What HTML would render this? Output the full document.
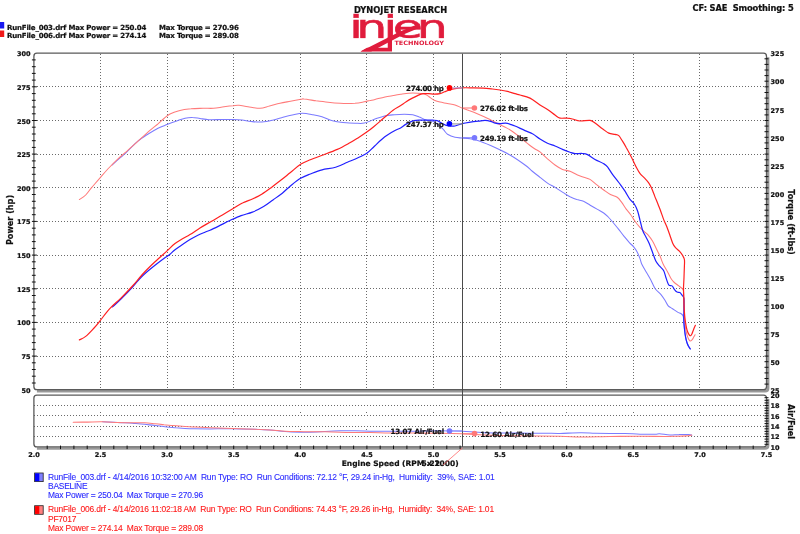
<!DOCTYPE html><html><head><meta charset="utf-8"><title>Dyno chart</title><style>html,body{margin:0;padding:0;background:#fff;width:800px;height:534px;overflow:hidden}svg{display:block;will-change:transform}</style></head><body>
<svg width="800" height="534" viewBox="0 0 800 534">
<rect width="800" height="534" fill="#fff"/>
<text x="400.6" y="12.8" font-family="DejaVu Sans, Verdana, sans-serif" font-weight="bold" stroke="#111" stroke-width="0.22" font-size="8.3" text-anchor="middle" fill="#111">DYNOJET RESEARCH</text>
<text x="692.6" y="10.7" font-family="DejaVu Sans, Verdana, sans-serif" font-weight="bold" stroke="#111" stroke-width="0.22" font-size="8.3" fill="#111" textLength="101.2" xml:space="preserve">CF: SAE  Smoothing: 5</text>
<rect x="0" y="22" width="4.2" height="6.5" fill="#1818f0"/>
<rect x="0" y="30.5" width="4.2" height="6.5" fill="#f01818"/>
<g font-family="DejaVu Sans, Verdana, sans-serif" font-weight="bold" stroke="#111" stroke-width="0.22" font-size="7" fill="#111"><text x="7" y="29.7" textLength="139.3">RunFile_003.drf Max Power = 250.04</text><text x="159" y="29.7" textLength="79.9">Max Torque = 270.96</text><text x="7" y="37.7" textLength="139.3">RunFile_006.drf Max Power = 274.14</text><text x="159" y="37.7" textLength="79.9">Max Torque = 289.08</text></g>
<defs><clipPath id="lc"><rect x="340" y="10" width="120" height="28.4"/></clipPath></defs>
<g clip-path="url(#lc)"><text transform="translate(0,38.3) scale(1.52,1)" x="229.73 234.40 252.23 258.46 274.21" y="0" font-family="DejaVu Sans, sans-serif" font-size="32.2" fill="#e01c3c" stroke="#e01c3c" stroke-width="0.55">injen</text></g>
<polygon points="360.5,51.5 367,47.75 387.75,47.75 387.75,37.5 392,37.5 392,51.5" fill="#e01c3c"/>
<polygon points="360.5,51.5 400,31.4 419.5,23.4 419.5,27.8 404,34.3 371.2,51.5" fill="#e01c3c"/>
<text x="394.4" y="45" font-family="DejaVu Sans, sans-serif" font-weight="bold" font-size="6" fill="#e01c3c" textLength="49.6" lengthAdjust="spacingAndGlyphs">TECHNOLOGY</text>
<g stroke="#6a6a6a" stroke-width="1" stroke-dasharray="1 2" fill="none" shape-rendering="crispEdges"><line x1="34" y1="356.5" x2="766" y2="356.5"/><line x1="34" y1="322.5" x2="766" y2="322.5"/><line x1="34" y1="288.5" x2="766" y2="288.5"/><line x1="34" y1="255.5" x2="766" y2="255.5"/><line x1="34" y1="221.5" x2="766" y2="221.5"/><line x1="34" y1="187.5" x2="766" y2="187.5"/><line x1="34" y1="154.5" x2="766" y2="154.5"/><line x1="34" y1="120.5" x2="766" y2="120.5"/><line x1="34" y1="86.5" x2="766" y2="86.5"/><line x1="100.5" y1="54" x2="100.5" y2="389"/><line x1="167.5" y1="54" x2="167.5" y2="389"/><line x1="233.5" y1="54" x2="233.5" y2="389"/><line x1="300.5" y1="54" x2="300.5" y2="389"/><line x1="366.5" y1="54" x2="366.5" y2="389"/><line x1="433.5" y1="54" x2="433.5" y2="389"/><line x1="500.5" y1="54" x2="500.5" y2="389"/><line x1="566.5" y1="54" x2="566.5" y2="389"/><line x1="633.5" y1="54" x2="633.5" y2="389"/><line x1="699.5" y1="54" x2="699.5" y2="389"/><line x1="34" y1="436.5" x2="766" y2="436.5"/><line x1="34" y1="426.5" x2="766" y2="426.5"/><line x1="34" y1="415.5" x2="766" y2="415.5"/><line x1="34" y1="405.5" x2="766" y2="405.5"/></g>
<g fill="#6a6a6a"><rect x="100" y="412" width="1" height="1"/><rect x="100" y="429" width="1" height="1"/><rect x="167" y="412" width="1" height="1"/><rect x="167" y="429" width="1" height="1"/><rect x="233" y="412" width="1" height="1"/><rect x="233" y="429" width="1" height="1"/><rect x="300" y="412" width="1" height="1"/><rect x="300" y="429" width="1" height="1"/><rect x="366" y="412" width="1" height="1"/><rect x="366" y="429" width="1" height="1"/><rect x="433" y="412" width="1" height="1"/><rect x="433" y="429" width="1" height="1"/><rect x="500" y="412" width="1" height="1"/><rect x="500" y="429" width="1" height="1"/><rect x="566" y="412" width="1" height="1"/><rect x="566" y="429" width="1" height="1"/><rect x="633" y="412" width="1" height="1"/><rect x="633" y="429" width="1" height="1"/><rect x="699" y="412" width="1" height="1"/><rect x="699" y="429" width="1" height="1"/></g>
<g stroke="#999" stroke-width="2.6"><path d="M768.1,57.2 L768.1,388.3 Q768.1,391.3 765.1,391.3 L36.9,391.3" fill="none"/><path d="M768.1,399.1 L768.1,445.5 Q768.1,448.5 765.1,448.5 L36.9,448.5" fill="none"/></g>
<g stroke="#5a5a5a" stroke-width="1.3"><rect x="33.9" y="53.2" width="732.6" height="336.5" rx="3" ry="3" fill="none"/><rect x="33.9" y="395.1" width="732.6" height="51.799999999999955" rx="3" ry="3" fill="none"/></g>
<g stroke="#111" stroke-width="1"><line x1="31.9" y1="383.0" x2="35.699999999999996" y2="383.0"/><line x1="31.9" y1="376.2" x2="35.699999999999996" y2="376.2"/><line x1="31.9" y1="369.5" x2="35.699999999999996" y2="369.5"/><line x1="31.9" y1="362.8" x2="35.699999999999996" y2="362.8"/><line x1="31.9" y1="356.1" x2="36.9" y2="356.1"/><line x1="31.9" y1="349.3" x2="35.699999999999996" y2="349.3"/><line x1="31.9" y1="342.6" x2="35.699999999999996" y2="342.6"/><line x1="31.9" y1="335.9" x2="35.699999999999996" y2="335.9"/><line x1="31.9" y1="329.1" x2="35.699999999999996" y2="329.1"/><line x1="31.9" y1="322.4" x2="36.9" y2="322.4"/><line x1="31.9" y1="315.7" x2="35.699999999999996" y2="315.7"/><line x1="31.9" y1="308.9" x2="35.699999999999996" y2="308.9"/><line x1="31.9" y1="302.2" x2="35.699999999999996" y2="302.2"/><line x1="31.9" y1="295.5" x2="35.699999999999996" y2="295.5"/><line x1="31.9" y1="288.8" x2="36.9" y2="288.8"/><line x1="31.9" y1="282.0" x2="35.699999999999996" y2="282.0"/><line x1="31.9" y1="275.3" x2="35.699999999999996" y2="275.3"/><line x1="31.9" y1="268.6" x2="35.699999999999996" y2="268.6"/><line x1="31.9" y1="261.8" x2="35.699999999999996" y2="261.8"/><line x1="31.9" y1="255.1" x2="36.9" y2="255.1"/><line x1="31.9" y1="248.4" x2="35.699999999999996" y2="248.4"/><line x1="31.9" y1="241.6" x2="35.699999999999996" y2="241.6"/><line x1="31.9" y1="234.9" x2="35.699999999999996" y2="234.9"/><line x1="31.9" y1="228.2" x2="35.699999999999996" y2="228.2"/><line x1="31.9" y1="221.4" x2="36.9" y2="221.4"/><line x1="31.9" y1="214.7" x2="35.699999999999996" y2="214.7"/><line x1="31.9" y1="208.0" x2="35.699999999999996" y2="208.0"/><line x1="31.9" y1="201.3" x2="35.699999999999996" y2="201.3"/><line x1="31.9" y1="194.5" x2="35.699999999999996" y2="194.5"/><line x1="31.9" y1="187.8" x2="36.9" y2="187.8"/><line x1="31.9" y1="181.1" x2="35.699999999999996" y2="181.1"/><line x1="31.9" y1="174.3" x2="35.699999999999996" y2="174.3"/><line x1="31.9" y1="167.6" x2="35.699999999999996" y2="167.6"/><line x1="31.9" y1="160.9" x2="35.699999999999996" y2="160.9"/><line x1="31.9" y1="154.1" x2="36.9" y2="154.1"/><line x1="31.9" y1="147.4" x2="35.699999999999996" y2="147.4"/><line x1="31.9" y1="140.7" x2="35.699999999999996" y2="140.7"/><line x1="31.9" y1="134.0" x2="35.699999999999996" y2="134.0"/><line x1="31.9" y1="127.2" x2="35.699999999999996" y2="127.2"/><line x1="31.9" y1="120.5" x2="36.9" y2="120.5"/><line x1="31.9" y1="113.8" x2="35.699999999999996" y2="113.8"/><line x1="31.9" y1="107.0" x2="35.699999999999996" y2="107.0"/><line x1="31.9" y1="100.3" x2="35.699999999999996" y2="100.3"/><line x1="31.9" y1="93.6" x2="35.699999999999996" y2="93.6"/><line x1="31.9" y1="86.8" x2="36.9" y2="86.8"/><line x1="31.9" y1="80.1" x2="35.699999999999996" y2="80.1"/><line x1="31.9" y1="73.4" x2="35.699999999999996" y2="73.4"/><line x1="31.9" y1="66.7" x2="35.699999999999996" y2="66.7"/><line x1="31.9" y1="59.9" x2="35.699999999999996" y2="59.9"/><line x1="764.5" y1="384.1" x2="768.5" y2="384.1"/><line x1="764.5" y1="378.5" x2="768.5" y2="378.5"/><line x1="764.5" y1="372.9" x2="768.5" y2="372.9"/><line x1="764.5" y1="367.3" x2="768.5" y2="367.3"/><line x1="764.5" y1="361.7" x2="768.5" y2="361.7"/><line x1="764.5" y1="356.1" x2="768.5" y2="356.1"/><line x1="764.5" y1="350.4" x2="768.5" y2="350.4"/><line x1="764.5" y1="344.8" x2="768.5" y2="344.8"/><line x1="764.5" y1="339.2" x2="768.5" y2="339.2"/><line x1="764.5" y1="333.6" x2="768.5" y2="333.6"/><line x1="764.5" y1="328.0" x2="768.5" y2="328.0"/><line x1="764.5" y1="322.4" x2="768.5" y2="322.4"/><line x1="764.5" y1="316.8" x2="768.5" y2="316.8"/><line x1="764.5" y1="311.2" x2="768.5" y2="311.2"/><line x1="764.5" y1="305.6" x2="768.5" y2="305.6"/><line x1="764.5" y1="300.0" x2="768.5" y2="300.0"/><line x1="764.5" y1="294.4" x2="768.5" y2="294.4"/><line x1="764.5" y1="288.8" x2="768.5" y2="288.8"/><line x1="764.5" y1="283.1" x2="768.5" y2="283.1"/><line x1="764.5" y1="277.5" x2="768.5" y2="277.5"/><line x1="764.5" y1="271.9" x2="768.5" y2="271.9"/><line x1="764.5" y1="266.3" x2="768.5" y2="266.3"/><line x1="764.5" y1="260.7" x2="768.5" y2="260.7"/><line x1="764.5" y1="255.1" x2="768.5" y2="255.1"/><line x1="764.5" y1="249.5" x2="768.5" y2="249.5"/><line x1="764.5" y1="243.9" x2="768.5" y2="243.9"/><line x1="764.5" y1="238.3" x2="768.5" y2="238.3"/><line x1="764.5" y1="232.7" x2="768.5" y2="232.7"/><line x1="764.5" y1="227.1" x2="768.5" y2="227.1"/><line x1="764.5" y1="221.4" x2="768.5" y2="221.4"/><line x1="764.5" y1="215.8" x2="768.5" y2="215.8"/><line x1="764.5" y1="210.2" x2="768.5" y2="210.2"/><line x1="764.5" y1="204.6" x2="768.5" y2="204.6"/><line x1="764.5" y1="199.0" x2="768.5" y2="199.0"/><line x1="764.5" y1="193.4" x2="768.5" y2="193.4"/><line x1="764.5" y1="187.8" x2="768.5" y2="187.8"/><line x1="764.5" y1="182.2" x2="768.5" y2="182.2"/><line x1="764.5" y1="176.6" x2="768.5" y2="176.6"/><line x1="764.5" y1="171.0" x2="768.5" y2="171.0"/><line x1="764.5" y1="165.4" x2="768.5" y2="165.4"/><line x1="764.5" y1="159.8" x2="768.5" y2="159.8"/><line x1="764.5" y1="154.1" x2="768.5" y2="154.1"/><line x1="764.5" y1="148.5" x2="768.5" y2="148.5"/><line x1="764.5" y1="142.9" x2="768.5" y2="142.9"/><line x1="764.5" y1="137.3" x2="768.5" y2="137.3"/><line x1="764.5" y1="131.7" x2="768.5" y2="131.7"/><line x1="764.5" y1="126.1" x2="768.5" y2="126.1"/><line x1="764.5" y1="120.5" x2="768.5" y2="120.5"/><line x1="764.5" y1="114.9" x2="768.5" y2="114.9"/><line x1="764.5" y1="109.3" x2="768.5" y2="109.3"/><line x1="764.5" y1="103.7" x2="768.5" y2="103.7"/><line x1="764.5" y1="98.1" x2="768.5" y2="98.1"/><line x1="764.5" y1="92.5" x2="768.5" y2="92.5"/><line x1="764.5" y1="86.8" x2="768.5" y2="86.8"/><line x1="764.5" y1="81.2" x2="768.5" y2="81.2"/><line x1="764.5" y1="75.6" x2="768.5" y2="75.6"/><line x1="764.5" y1="70.0" x2="768.5" y2="70.0"/><line x1="764.5" y1="64.4" x2="768.5" y2="64.4"/><line x1="764.5" y1="58.8" x2="768.5" y2="58.8"/><line x1="47.2" y1="445.59999999999997" x2="47.2" y2="449.09999999999997"/><line x1="60.5" y1="445.59999999999997" x2="60.5" y2="449.09999999999997"/><line x1="73.9" y1="445.59999999999997" x2="73.9" y2="449.09999999999997"/><line x1="87.2" y1="445.59999999999997" x2="87.2" y2="449.09999999999997"/><line x1="100.5" y1="445.59999999999997" x2="100.5" y2="449.09999999999997"/><line x1="113.8" y1="445.59999999999997" x2="113.8" y2="449.09999999999997"/><line x1="127.1" y1="445.59999999999997" x2="127.1" y2="449.09999999999997"/><line x1="140.5" y1="445.59999999999997" x2="140.5" y2="449.09999999999997"/><line x1="153.8" y1="445.59999999999997" x2="153.8" y2="449.09999999999997"/><line x1="167.1" y1="445.59999999999997" x2="167.1" y2="449.09999999999997"/><line x1="180.4" y1="445.59999999999997" x2="180.4" y2="449.09999999999997"/><line x1="193.7" y1="445.59999999999997" x2="193.7" y2="449.09999999999997"/><line x1="207.1" y1="445.59999999999997" x2="207.1" y2="449.09999999999997"/><line x1="220.4" y1="445.59999999999997" x2="220.4" y2="449.09999999999997"/><line x1="233.7" y1="445.59999999999997" x2="233.7" y2="449.09999999999997"/><line x1="247.0" y1="445.59999999999997" x2="247.0" y2="449.09999999999997"/><line x1="260.3" y1="445.59999999999997" x2="260.3" y2="449.09999999999997"/><line x1="273.7" y1="445.59999999999997" x2="273.7" y2="449.09999999999997"/><line x1="287.0" y1="445.59999999999997" x2="287.0" y2="449.09999999999997"/><line x1="300.3" y1="445.59999999999997" x2="300.3" y2="449.09999999999997"/><line x1="313.6" y1="445.59999999999997" x2="313.6" y2="449.09999999999997"/><line x1="326.9" y1="445.59999999999997" x2="326.9" y2="449.09999999999997"/><line x1="340.3" y1="445.59999999999997" x2="340.3" y2="449.09999999999997"/><line x1="353.6" y1="445.59999999999997" x2="353.6" y2="449.09999999999997"/><line x1="366.9" y1="445.59999999999997" x2="366.9" y2="449.09999999999997"/><line x1="380.2" y1="445.59999999999997" x2="380.2" y2="449.09999999999997"/><line x1="393.5" y1="445.59999999999997" x2="393.5" y2="449.09999999999997"/><line x1="406.9" y1="445.59999999999997" x2="406.9" y2="449.09999999999997"/><line x1="420.2" y1="445.59999999999997" x2="420.2" y2="449.09999999999997"/><line x1="433.5" y1="445.59999999999997" x2="433.5" y2="449.09999999999997"/><line x1="446.8" y1="445.59999999999997" x2="446.8" y2="449.09999999999997"/><line x1="460.1" y1="445.59999999999997" x2="460.1" y2="449.09999999999997"/><line x1="473.5" y1="445.59999999999997" x2="473.5" y2="449.09999999999997"/><line x1="486.8" y1="445.59999999999997" x2="486.8" y2="449.09999999999997"/><line x1="500.1" y1="445.59999999999997" x2="500.1" y2="449.09999999999997"/><line x1="513.4" y1="445.59999999999997" x2="513.4" y2="449.09999999999997"/><line x1="526.7" y1="445.59999999999997" x2="526.7" y2="449.09999999999997"/><line x1="540.1" y1="445.59999999999997" x2="540.1" y2="449.09999999999997"/><line x1="553.4" y1="445.59999999999997" x2="553.4" y2="449.09999999999997"/><line x1="566.7" y1="445.59999999999997" x2="566.7" y2="449.09999999999997"/><line x1="580.0" y1="445.59999999999997" x2="580.0" y2="449.09999999999997"/><line x1="593.3" y1="445.59999999999997" x2="593.3" y2="449.09999999999997"/><line x1="606.7" y1="445.59999999999997" x2="606.7" y2="449.09999999999997"/><line x1="620.0" y1="445.59999999999997" x2="620.0" y2="449.09999999999997"/><line x1="633.3" y1="445.59999999999997" x2="633.3" y2="449.09999999999997"/><line x1="646.6" y1="445.59999999999997" x2="646.6" y2="449.09999999999997"/><line x1="659.9" y1="445.59999999999997" x2="659.9" y2="449.09999999999997"/><line x1="673.3" y1="445.59999999999997" x2="673.3" y2="449.09999999999997"/><line x1="686.6" y1="445.59999999999997" x2="686.6" y2="449.09999999999997"/><line x1="699.9" y1="445.59999999999997" x2="699.9" y2="449.09999999999997"/><line x1="713.2" y1="445.59999999999997" x2="713.2" y2="449.09999999999997"/><line x1="726.5" y1="445.59999999999997" x2="726.5" y2="449.09999999999997"/><line x1="739.9" y1="445.59999999999997" x2="739.9" y2="449.09999999999997"/><line x1="753.2" y1="445.59999999999997" x2="753.2" y2="449.09999999999997"/><line x1="764.5" y1="444.3" x2="768.5" y2="444.3"/><line x1="764.5" y1="441.7" x2="768.5" y2="441.7"/><line x1="764.5" y1="439.1" x2="768.5" y2="439.1"/><line x1="764.5" y1="436.5" x2="768.5" y2="436.5"/><line x1="764.5" y1="433.9" x2="768.5" y2="433.9"/><line x1="764.5" y1="431.4" x2="768.5" y2="431.4"/><line x1="764.5" y1="428.8" x2="768.5" y2="428.8"/><line x1="764.5" y1="426.2" x2="768.5" y2="426.2"/><line x1="764.5" y1="423.6" x2="768.5" y2="423.6"/><line x1="764.5" y1="421.0" x2="768.5" y2="421.0"/><line x1="764.5" y1="418.4" x2="768.5" y2="418.4"/><line x1="764.5" y1="415.8" x2="768.5" y2="415.8"/><line x1="764.5" y1="413.2" x2="768.5" y2="413.2"/><line x1="764.5" y1="410.6" x2="768.5" y2="410.6"/><line x1="764.5" y1="408.1" x2="768.5" y2="408.1"/><line x1="764.5" y1="405.5" x2="768.5" y2="405.5"/><line x1="764.5" y1="402.9" x2="768.5" y2="402.9"/><line x1="764.5" y1="400.3" x2="768.5" y2="400.3"/><line x1="764.5" y1="397.7" x2="768.5" y2="397.7"/></g>
<g font-family="DejaVu Sans, Verdana, sans-serif" font-weight="bold" stroke="#111" stroke-width="0.22" font-size="6.5" fill="#111"><text x="30.5" y="392.7" text-anchor="end">50</text><text x="30.5" y="359.1" text-anchor="end">75</text><text x="30.5" y="325.4" text-anchor="end">100</text><text x="30.5" y="291.8" text-anchor="end">125</text><text x="30.5" y="258.1" text-anchor="end">150</text><text x="30.5" y="224.4" text-anchor="end">175</text><text x="30.5" y="190.8" text-anchor="end">200</text><text x="30.5" y="157.1" text-anchor="end">225</text><text x="30.5" y="123.5" text-anchor="end">250</text><text x="30.5" y="89.8" text-anchor="end">275</text><text x="30.5" y="56.2" text-anchor="end">300</text><text x="770.6" y="392.9">25</text><text x="770.6" y="364.9">50</text><text x="770.6" y="336.8">75</text><text x="770.6" y="308.8">100</text><text x="770.6" y="280.7">125</text><text x="770.6" y="252.7">150</text><text x="770.6" y="224.6">175</text><text x="770.6" y="196.6">200</text><text x="770.6" y="168.6">225</text><text x="770.6" y="140.5">250</text><text x="770.6" y="112.5">275</text><text x="770.6" y="84.4">300</text><text x="770.6" y="56.4">325</text><text x="770.6" y="449.8">10</text><text x="770.6" y="439.4">12</text><text x="770.6" y="429.1">14</text><text x="770.6" y="418.7">16</text><text x="770.6" y="408.4">18</text><text x="770.6" y="398.0">20</text><text x="33.9" y="456.8" text-anchor="middle">2.0</text><text x="100.5" y="456.8" text-anchor="middle">2.5</text><text x="167.1" y="456.8" text-anchor="middle">3.0</text><text x="233.7" y="456.8" text-anchor="middle">3.5</text><text x="300.3" y="456.8" text-anchor="middle">4.0</text><text x="366.9" y="456.8" text-anchor="middle">4.5</text><text x="433.5" y="456.8" text-anchor="middle">5.0</text><text x="500.1" y="456.8" text-anchor="middle">5.5</text><text x="566.7" y="456.8" text-anchor="middle">6.0</text><text x="633.3" y="456.8" text-anchor="middle">6.5</text><text x="699.9" y="456.8" text-anchor="middle">7.0</text><text x="766.5" y="456.8" text-anchor="middle">7.5</text></g>
<text transform="translate(12.8,220) rotate(-90)" font-family="DejaVu Sans, Verdana, sans-serif" font-weight="bold" stroke="#111" stroke-width="0.22" font-size="8.1" text-anchor="middle" fill="#111">Power (hp)</text>
<text transform="translate(787.8,222) rotate(90)" font-family="DejaVu Sans, Verdana, sans-serif" font-weight="bold" stroke="#111" stroke-width="0.22" font-size="8.1" text-anchor="middle" fill="#111">Torque (ft-lbs)</text>
<text transform="translate(787.8,421.5) rotate(90)" font-family="DejaVu Sans, Verdana, sans-serif" font-weight="bold" stroke="#111" stroke-width="0.22" font-size="8.1" text-anchor="middle" fill="#111">Air/Fuel</text>
<text x="400.2" y="465.6" font-family="DejaVu Sans, Verdana, sans-serif" font-weight="bold" stroke="#111" stroke-width="0.22" font-size="7.5" text-anchor="middle" fill="#111">Engine Speed (RPM x 1000)</text>
<g fill="none" stroke-linejoin="round" stroke-linecap="round">
<path d="M112.3,164.9 C113.5,163.8 117.1,160.5 119.2,158.6 C121.3,156.7 122.5,156.1 125.1,153.7 C127.7,151.2 132.4,146.3 134.9,143.9 C137.4,141.5 137.7,141.2 140.0,139.5 C142.3,137.8 146.0,135.4 149.0,133.5 C152.0,131.6 155.0,129.8 158.0,128.2 C161.0,126.8 164.0,125.7 167.0,124.5 C170.0,123.3 173.0,122.2 176.0,121.2 C179.0,120.2 182.2,118.8 185.0,118.2 C187.8,117.6 190.0,117.4 192.5,117.5 C195.0,117.5 197.2,118.1 200.0,118.5 C202.8,118.9 205.5,119.5 209.0,119.7 C212.5,119.9 217.0,119.6 221.0,119.5 C225.0,119.5 229.5,119.5 233.0,119.5 C236.5,119.6 239.0,119.7 242.0,120.0 C245.0,120.3 247.7,121.2 251.0,121.5 C254.3,121.8 258.4,122.3 262.0,122.0 C265.6,121.8 269.0,121.0 272.5,120.2 C276.0,119.5 279.5,118.2 283.0,117.2 C286.5,116.3 290.2,115.4 293.5,114.7 C296.8,114.0 299.2,113.2 302.5,113.2 C305.8,113.2 309.8,114.1 313.0,114.7 C316.2,115.3 318.8,115.8 322.0,116.8 C325.2,117.8 329.0,119.8 332.5,120.7 C336.0,121.7 339.2,122.1 343.0,122.5 C346.8,122.9 351.4,123.2 355.0,123.2 C358.6,123.3 361.1,123.8 364.3,123.1 C367.5,122.4 371.0,120.5 374.4,119.3 C377.8,118.1 381.1,116.7 384.5,115.9 C387.9,115.1 391.3,115.0 394.6,114.7 C397.9,114.4 401.4,114.3 404.4,114.3 C407.4,114.3 410.3,114.3 412.8,114.8 C415.3,115.3 417.1,116.2 419.3,117.1 C421.5,117.9 423.7,119.2 425.9,119.9 C428.1,120.6 430.8,120.8 432.5,121.3 C434.2,121.8 434.9,122.4 436.2,123.2 C437.4,124.0 438.8,124.9 440.0,126.0 C441.2,127.1 442.4,128.4 443.7,129.8 C444.9,131.2 445.6,132.9 447.5,134.2 C449.4,135.4 452.6,136.7 455.0,137.3 C457.4,137.9 459.5,137.8 462.0,138.0 C464.5,138.2 467.0,138.2 470.0,138.8 C473.0,139.3 475.8,139.8 480.0,141.2 C484.2,142.7 490.0,145.2 495.0,147.5 C500.0,149.8 505.0,152.1 510.0,155.0 C515.0,157.9 521.3,162.3 525.0,165.0 C528.7,167.7 529.5,168.9 532.0,171.0 C534.5,173.1 537.4,175.3 540.0,177.3 C542.6,179.3 544.8,181.3 547.5,183.1 C550.2,184.9 553.3,186.3 556.2,188.1 C559.2,189.9 562.7,192.3 565.0,193.8 C567.3,195.2 568.0,195.8 570.0,196.8 C572.0,197.7 574.5,198.8 576.8,199.6 C579.0,200.3 581.3,200.3 583.5,201.2 C585.7,202.2 588.0,203.9 590.2,205.2 C592.5,206.5 594.8,207.8 597.0,209.1 C599.2,210.4 601.8,211.7 603.7,213.0 C605.6,214.3 606.7,215.5 608.2,217.0 C609.7,218.5 611.0,220.0 612.7,222.0 C614.4,224.0 616.4,226.5 618.3,228.8 C620.2,231.2 622.0,233.8 623.9,236.1 C625.8,238.4 627.9,241.0 629.6,242.8 C631.3,244.6 632.6,245.5 633.9,247.1 C635.2,248.7 636.3,250.2 637.3,252.2 C638.3,254.2 639.4,256.9 640.1,258.9 C640.8,260.9 640.7,261.8 641.7,264.0 C642.7,266.2 644.7,269.3 646.2,271.9 C647.7,274.5 649.2,276.9 650.7,279.7 C652.2,282.5 653.5,286.3 655.2,288.7 C656.9,291.1 659.2,292.4 660.8,294.3 C662.4,296.2 663.6,298.1 664.8,300.0 C666.0,301.9 666.9,304.3 668.0,305.6 C669.1,306.9 670.1,307.1 671.2,307.9 C672.3,308.6 673.5,309.4 674.6,310.1 C675.7,310.9 677.0,311.8 678.0,312.4 C679.0,313.0 680.0,312.9 680.8,313.5 C681.6,314.1 682.5,314.6 683.0,315.7 C683.5,316.8 683.5,317.9 683.8,320.2 C684.0,322.4 684.2,326.4 684.5,329.2 C684.8,332.0 685.2,334.9 685.6,337.1 C686.0,339.4 686.5,341.1 687.0,342.7 C687.5,344.3 688.2,345.6 688.7,346.6 C689.2,347.6 690.0,348.5 690.3,348.9" stroke="#7b7bff" stroke-width="1.05"/>
<path d="M79.4,199.5 C80.5,198.8 83.7,197.0 85.7,195.0 C87.7,193.0 89.1,190.6 91.6,187.7 C94.1,184.8 97.5,180.7 100.5,177.3 C103.5,173.9 106.5,170.4 109.3,167.5 C112.1,164.6 114.6,162.1 117.2,159.6 C119.8,157.1 122.1,155.3 125.1,152.7 C128.0,150.1 132.4,146.1 134.9,143.9 C137.4,141.7 137.7,141.5 140.0,139.4 C142.3,137.3 146.0,133.9 149.0,131.2 C152.0,128.6 155.5,125.9 158.0,123.8 C160.5,121.6 162.0,120.1 164.0,118.5 C166.0,116.9 167.5,115.3 170.0,114.0 C172.5,112.7 175.5,111.6 179.0,110.7 C182.5,109.8 187.0,109.2 191.0,108.8 C195.0,108.3 199.2,108.4 203.0,108.3 C206.8,108.2 210.0,108.5 213.5,108.3 C217.0,108.0 220.8,107.2 224.0,106.8 C227.2,106.4 230.5,106.0 233.0,105.8 C235.5,105.5 236.5,105.1 239.0,105.3 C241.5,105.5 244.5,106.3 248.0,106.8 C251.5,107.3 256.4,108.4 260.0,108.3 C263.6,108.2 266.2,106.8 269.5,106.0 C272.8,105.2 276.5,104.1 280.0,103.3 C283.5,102.5 287.0,101.9 290.5,101.2 C294.0,100.5 298.8,99.6 301.0,99.2 C303.2,98.9 301.5,98.7 304.0,99.0 C306.5,99.2 312.0,100.2 316.0,100.8 C320.0,101.3 324.0,101.8 328.0,102.2 C332.0,102.7 335.5,103.1 340.0,103.3 C344.5,103.5 351.0,103.5 355.0,103.3 C359.0,103.0 361.5,102.3 364.0,101.8 C366.5,101.3 368.2,100.8 370.0,100.5 C371.8,100.1 372.5,100.0 375.0,99.4 C377.5,98.8 381.7,97.6 385.0,96.9 C388.3,96.2 392.4,95.8 395.0,95.3 C397.6,94.8 398.3,94.5 400.6,94.2 C402.9,93.9 406.2,93.4 409.0,93.2 C411.8,93.0 415.1,93.1 417.5,93.2 C419.9,93.3 421.6,93.4 423.1,93.7 C424.7,94.0 425.6,94.4 426.8,95.1 C428.1,95.8 429.4,97.0 430.6,97.9 C431.9,98.8 432.7,99.6 434.3,100.3 C435.9,101.0 437.8,101.6 440.0,102.1 C442.2,102.6 444.9,103.0 447.4,103.5 C449.9,104.0 452.6,104.2 455.0,104.9 C457.4,105.7 459.7,107.0 462.0,108.0 C464.3,109.0 466.3,109.5 469.0,110.6 C471.7,111.6 475.3,113.0 478.4,114.3 C481.5,115.6 484.7,117.0 487.8,118.5 C490.9,120.0 494.0,121.6 497.1,123.2 C500.2,124.8 504.0,126.6 506.5,127.9 C509.0,129.2 510.1,129.8 512.1,131.2 C514.1,132.6 517.0,134.8 518.8,136.2 C520.5,137.7 520.6,138.1 522.5,139.6 C524.4,141.1 527.9,143.9 530.0,145.5 C532.1,147.1 533.3,147.9 535.0,149.0 C536.7,150.1 537.9,150.3 540.0,151.9 C542.1,153.5 545.0,156.6 547.5,158.8 C550.0,160.9 552.5,163.2 555.0,165.0 C557.5,166.8 560.0,168.4 562.5,169.4 C565.0,170.4 567.5,170.3 570.0,171.2 C572.5,172.2 575.2,174.0 577.5,175.0 C579.8,176.0 581.7,176.5 583.8,177.2 C585.8,178.0 587.9,178.2 590.0,179.4 C592.1,180.6 594.0,182.6 596.2,184.4 C598.5,186.2 601.3,188.3 603.7,190.0 C606.1,191.7 608.1,193.3 610.4,194.5 C612.6,195.7 615.3,196.0 617.2,197.3 C619.1,198.6 620.2,200.4 621.7,202.4 C623.2,204.4 624.7,207.1 626.2,209.1 C627.7,211.1 629.2,212.6 630.7,214.7 C632.2,216.8 633.7,219.4 635.2,221.5 C636.7,223.6 638.2,225.4 639.7,227.1 C641.2,228.8 642.8,230.3 644.2,231.6 C645.6,232.9 646.6,233.2 648.0,234.8 C649.4,236.4 651.0,238.5 652.5,241.0 C654.0,243.5 655.7,247.4 657.0,250.0 C658.3,252.6 659.3,254.4 660.3,256.7 C661.3,259.0 661.9,261.5 663.1,264.0 C664.3,266.5 666.3,269.5 667.6,271.9 C668.9,274.3 669.9,276.8 671.0,278.6 C672.1,280.4 673.0,281.3 674.3,282.5 C675.6,283.7 677.5,284.9 678.8,285.9 C680.1,286.9 681.4,287.8 682.2,288.7 C683.0,289.6 683.2,289.1 683.5,291.0 C683.8,292.9 683.7,296.5 683.8,300.0 C683.9,303.5 684.0,307.5 684.2,312.0 C684.5,316.5 684.8,323.2 685.3,327.0 C685.8,330.8 686.4,332.8 687.0,334.8 C687.6,336.9 688.2,338.3 688.7,339.3 C689.2,340.3 689.6,340.9 690.1,341.0 C690.6,341.1 691.4,340.5 692.0,339.9 C692.6,339.2 693.2,338.0 693.7,337.1 C694.2,336.2 694.9,335.2 695.1,334.8" stroke="#ff7b7b" stroke-width="1.05"/>
<path d="M112.6,306.9 C114.0,305.6 117.9,302.2 121.2,298.9 C124.5,295.6 129.7,290.2 132.5,287.1 C135.3,284.0 136.2,282.6 138.1,280.5 C140.0,278.4 140.9,277.2 143.7,274.7 C146.5,272.1 151.6,267.9 155.0,265.2 C158.4,262.5 161.4,260.2 163.9,258.4 C166.4,256.6 168.2,255.8 170.0,254.3 C171.8,252.9 172.9,251.3 175.0,249.7 C177.1,248.1 180.0,246.2 182.5,244.5 C185.0,242.8 187.5,241.1 190.0,239.6 C192.5,238.1 194.9,236.7 197.4,235.5 C199.9,234.3 202.8,233.1 204.9,232.2 C207.0,231.3 207.7,231.2 210.0,230.2 C212.3,229.2 215.4,227.7 218.7,226.1 C222.0,224.5 226.2,222.2 229.9,220.5 C233.6,218.8 237.3,217.0 241.1,215.6 C244.8,214.2 248.7,213.6 252.4,212.1 C256.2,210.6 260.2,208.5 263.6,206.5 C267.0,204.5 269.9,202.1 273.0,199.9 C276.1,197.7 279.4,195.5 282.3,193.2 C285.2,190.9 287.1,188.7 290.1,186.2 C293.2,183.7 297.2,180.3 300.6,178.3 C304.0,176.3 306.7,175.4 310.3,174.0 C313.9,172.6 317.9,170.9 322.1,169.8 C326.3,168.7 331.4,168.6 335.6,167.3 C339.8,166.0 343.8,163.8 347.4,162.2 C351.0,160.7 354.2,159.5 357.5,158.0 C360.8,156.5 364.3,155.0 367.1,153.0 C369.9,151.0 371.5,148.9 374.4,146.2 C377.3,143.5 381.1,139.6 384.5,137.0 C387.9,134.4 392.3,132.0 395.0,130.5 C397.7,129.0 398.7,129.0 400.6,127.9 C402.5,126.8 404.0,125.3 406.2,124.1 C408.4,122.9 410.9,121.2 413.7,120.6 C416.5,119.9 420.0,120.3 423.1,120.2 C426.2,120.1 430.2,120.1 432.5,120.2 C434.8,120.3 435.6,120.1 437.1,120.6 C438.7,121.1 440.4,122.5 441.8,123.2 C443.2,124.0 444.4,124.6 445.6,125.1 C446.9,125.6 447.7,125.8 449.3,126.0 C450.9,126.2 452.9,126.4 455.0,126.0 C457.1,125.6 459.7,124.3 462.0,123.7 C464.3,123.1 466.3,122.7 469.0,122.3 C471.7,121.9 475.7,121.4 478.4,121.1 C481.1,120.8 483.0,120.4 485.0,120.4 C487.0,120.4 488.9,120.8 490.6,121.3 C492.3,121.8 493.7,122.8 495.3,123.2 C496.9,123.6 498.3,123.7 500.0,123.7 C501.7,123.7 503.7,123.1 505.6,123.2 C507.5,123.3 509.6,124.1 511.2,124.6 C512.8,125.1 512.7,125.0 515.0,126.0 C517.3,127.0 522.1,129.3 525.0,130.6 C527.9,131.9 530.0,132.3 532.5,133.8 C535.0,135.2 537.5,137.4 540.0,139.0 C542.5,140.6 545.0,142.0 547.5,143.2 C550.0,144.4 552.5,145.0 555.0,146.0 C557.5,147.0 560.0,148.3 562.5,149.4 C565.0,150.5 567.9,151.6 570.0,152.3 C572.1,153.0 572.9,153.4 575.0,153.6 C577.1,153.8 580.4,153.3 582.5,153.5 C584.6,153.7 585.4,153.6 587.5,154.6 C589.6,155.6 592.3,157.9 595.0,159.4 C597.7,160.9 601.7,162.5 603.8,163.8 C605.8,165.0 606.0,165.1 607.5,166.9 C609.0,168.7 610.6,171.8 612.5,174.4 C614.4,177.0 616.7,179.7 618.8,182.5 C620.8,185.3 623.1,188.4 625.0,191.2 C626.9,194.1 628.5,197.4 630.0,199.4 C631.5,201.4 632.7,201.6 634.0,203.5 C635.3,205.4 636.6,208.1 637.6,211.0 C638.6,213.9 639.4,217.8 640.2,221.0 C641.1,224.2 641.8,227.9 642.7,230.5 C643.6,233.1 644.6,234.4 645.7,236.5 C646.8,238.6 648.0,240.6 649.1,243.2 C650.2,245.8 651.4,249.2 652.5,252.2 C653.6,255.2 654.6,258.7 655.8,261.0 C657.0,263.3 658.4,264.6 659.7,266.2 C661.0,267.8 662.7,268.8 663.7,270.7 C664.7,272.6 665.1,275.1 665.9,277.5 C666.7,279.9 667.7,283.4 668.7,284.8 C669.7,286.2 671.2,285.1 672.1,285.9 C673.0,286.6 673.5,288.3 674.3,289.3 C675.1,290.3 676.2,291.6 677.1,292.1 C678.0,292.7 679.0,292.1 679.9,292.6 C680.8,293.2 681.5,294.4 682.2,295.4 C682.9,296.3 683.6,296.7 683.9,298.3 C684.2,299.9 684.0,301.4 684.0,305.0 C684.0,308.6 683.7,316.2 683.8,320.2 C683.9,324.2 684.2,326.4 684.5,329.2 C684.8,332.0 685.2,334.9 685.6,337.1 C686.0,339.4 686.5,341.1 687.0,342.7 C687.5,344.3 688.2,345.6 688.7,346.6 C689.2,347.6 690.0,348.5 690.3,348.9" stroke="#2020ff" stroke-width="1.2"/>
<path d="M79.4,339.9 C80.5,339.3 83.3,338.3 85.7,336.4 C88.1,334.5 91.1,331.2 93.6,328.5 C96.1,325.8 97.8,323.6 100.5,320.2 C103.2,316.8 106.5,312.1 110.0,308.4 C113.5,304.7 117.5,301.5 121.2,297.8 C125.0,294.0 128.8,290.1 132.5,286.0 C136.2,281.9 139.9,277.0 143.7,273.0 C147.4,269.0 151.1,265.5 155.0,261.8 C158.9,258.1 164.0,253.7 167.3,250.6 C170.6,247.5 172.5,245.5 175.0,243.5 C177.5,241.5 180.0,240.3 182.5,238.8 C185.0,237.3 187.1,236.3 190.0,234.5 C192.9,232.7 196.5,230.2 200.0,228.0 C203.5,225.8 207.5,223.6 211.2,221.4 C214.9,219.2 218.7,217.1 222.4,214.9 C226.1,212.7 230.2,210.3 233.6,208.3 C237.0,206.3 239.9,204.2 243.0,202.7 C246.1,201.1 249.3,200.4 252.4,199.0 C255.5,197.6 258.6,196.2 261.7,194.3 C264.8,192.4 268.0,190.0 271.1,187.7 C274.2,185.4 277.2,183.0 280.4,180.5 C283.6,178.0 286.7,175.5 290.1,172.8 C293.5,170.1 297.2,166.5 300.6,164.3 C304.0,162.1 306.4,161.3 310.3,159.7 C314.2,158.1 319.3,156.4 323.8,154.7 C328.3,153.0 333.0,151.3 337.3,149.4 C341.6,147.5 345.8,145.1 349.4,143.1 C353.0,141.1 355.7,139.3 358.7,137.4 C361.7,135.6 364.6,133.6 367.1,131.8 C369.6,130.0 371.5,128.5 373.7,126.7 C375.9,124.9 378.1,123.0 380.3,121.1 C382.5,119.2 384.6,117.3 386.8,115.5 C389.0,113.6 391.1,111.6 393.4,110.0 C395.6,108.4 398.2,107.2 400.3,105.8 C402.4,104.4 404.3,102.9 406.2,101.7 C408.1,100.5 410.0,99.4 411.9,98.4 C413.8,97.4 415.6,96.4 417.5,95.6 C419.4,94.8 421.2,94.0 423.1,93.7 C425.0,93.4 426.8,93.6 428.7,93.7 C430.6,93.8 432.4,94.2 434.3,94.2 C436.2,94.2 438.3,94.1 440.0,93.7 C441.7,93.3 443.1,92.4 444.6,91.8 C446.2,91.2 447.6,90.5 449.3,90.0 C451.0,89.5 452.9,89.0 455.0,88.6 C457.1,88.2 458.9,87.9 462.0,87.8 C465.1,87.7 470.2,87.8 473.7,87.8 C477.2,87.8 480.0,87.9 483.1,88.1 C486.2,88.3 489.7,88.7 492.5,89.0 C495.3,89.3 497.5,89.6 500.0,90.0 C502.5,90.4 504.9,90.8 507.4,91.4 C509.9,92.0 512.9,93.1 515.0,93.7 C517.1,94.3 517.5,94.3 520.0,95.0 C522.5,95.7 526.7,96.4 530.0,98.1 C533.3,99.8 537.1,103.0 540.0,104.9 C542.9,106.8 545.0,107.7 547.5,109.4 C550.0,111.1 552.9,113.5 555.0,115.0 C557.1,116.5 557.9,117.6 560.0,118.1 C562.1,118.6 565.4,117.9 567.5,118.1 C569.6,118.2 570.4,118.5 572.5,119.0 C574.6,119.5 577.1,120.8 580.0,121.0 C582.9,121.2 587.5,120.1 590.0,120.4 C592.5,120.8 592.9,121.7 595.0,123.1 C597.1,124.5 600.2,127.1 602.5,128.8 C604.8,130.4 606.7,132.2 608.8,133.1 C610.8,134.0 613.3,134.0 615.0,134.4 C616.7,134.8 617.5,134.5 618.8,135.6 C620.0,136.7 621.2,139.3 622.5,141.2 C623.8,143.2 625.0,145.3 626.2,147.5 C627.5,149.7 628.8,152.2 630.0,154.5 C631.2,156.8 632.3,158.9 633.4,161.2 C634.5,163.4 635.6,165.9 636.7,168.0 C637.8,170.1 638.8,171.9 640.1,173.6 C641.4,175.3 643.2,176.6 644.6,178.1 C646.0,179.6 647.4,181.0 648.5,182.6 C649.6,184.2 650.3,185.3 651.3,187.6 C652.3,189.8 653.6,193.3 654.7,196.1 C655.8,198.9 657.1,201.9 658.1,204.5 C659.1,207.1 660.0,209.2 660.9,211.7 C661.8,214.2 662.7,217.0 663.7,219.6 C664.7,222.2 666.1,224.9 667.1,227.5 C668.1,230.1 669.0,232.7 669.9,235.3 C670.8,237.9 671.8,241.1 672.7,243.2 C673.6,245.3 674.4,246.4 675.5,247.7 C676.6,249.0 678.2,249.8 679.4,251.1 C680.6,252.4 681.7,253.9 682.5,255.3 C683.3,256.7 684.1,257.7 684.4,259.5 C684.7,261.3 684.5,263.2 684.4,266.2 C684.3,269.2 684.1,273.8 684.0,277.5 C683.9,281.2 683.5,284.9 683.5,288.7 C683.5,292.4 683.8,296.6 683.9,300.0 C684.0,303.4 684.0,306.0 684.2,309.0 C684.4,312.0 684.6,315.2 684.9,318.0 C685.2,320.8 685.7,323.6 686.1,325.8 C686.5,328.1 687.0,330.0 687.5,331.5 C688.0,333.0 688.7,334.1 689.2,334.8 C689.7,335.5 690.1,335.9 690.6,335.7 C691.1,335.5 691.5,334.8 692.0,333.7 C692.5,332.6 693.1,330.6 693.7,329.2 C694.3,327.8 695.1,325.9 695.4,325.3" stroke="#ff2020" stroke-width="1.2"/>
<path d="M102.5,421.8 C105.0,421.9 112.5,422.2 117.5,422.5 C122.5,422.8 128.0,422.9 132.5,423.2 C137.0,423.6 140.8,423.9 144.5,424.3 C148.2,424.7 151.2,425.1 155.0,425.5 C158.8,425.9 163.5,426.6 167.0,427.0 C170.5,427.4 173.0,427.5 176.0,427.8 C179.0,428.0 181.8,428.2 185.0,428.4 C188.2,428.6 190.8,428.7 195.0,428.8 C199.2,428.9 205.0,428.9 210.0,428.9 C215.0,428.9 220.0,428.8 225.0,428.8 C230.0,428.8 235.0,428.9 240.0,428.9 C245.0,429.0 250.0,429.1 255.0,429.2 C260.0,429.4 265.0,429.6 270.0,430.0 C275.0,430.4 280.0,431.1 285.0,431.5 C290.0,431.9 295.8,432.1 300.0,432.2 C304.2,432.4 305.8,432.4 310.0,432.2 C314.2,432.1 320.0,431.8 325.0,431.5 C330.0,431.2 335.0,430.9 340.0,430.8 C345.0,430.6 350.0,430.7 355.0,430.8 C360.0,430.8 365.0,431.1 370.0,431.2 C375.0,431.3 380.0,431.2 385.0,431.2 C390.0,431.2 395.0,431.2 400.0,431.2 C405.0,431.2 408.3,431.3 415.0,431.2 C421.7,431.1 432.1,430.8 440.0,430.8 C447.9,430.8 455.0,430.9 462.5,431.2 C470.0,431.6 473.8,432.4 485.0,432.8 C496.2,433.1 520.0,433.1 530.0,433.2 C540.0,433.3 540.0,433.2 545.0,433.2 C550.0,433.2 554.2,433.5 560.0,433.4 C565.8,433.3 574.2,432.8 580.0,432.8 C585.8,432.7 590.0,433.1 595.0,433.2 C600.0,433.3 605.0,433.4 610.0,433.5 C615.0,433.6 620.0,433.4 625.0,433.5 C630.0,433.6 635.0,434.1 640.0,434.2 C645.0,434.4 651.8,434.3 655.0,434.2 C658.2,434.2 657.0,433.7 659.5,433.8 C662.0,433.9 666.8,434.9 670.0,435.0 C673.2,435.1 675.8,434.6 679.0,434.6 C682.2,434.5 687.4,434.4 689.5,434.6 C691.6,434.7 691.4,435.2 691.8,435.3" stroke="#7b7bff" stroke-width="1.05"/>
<path d="M73.2,422.2 C75.6,422.2 82.6,422.1 87.5,422.1 C92.4,422.0 97.5,421.7 102.5,421.8 C107.5,421.8 112.5,422.3 117.5,422.5 C122.5,422.7 128.0,422.8 132.5,422.8 C137.0,422.9 140.8,422.7 144.5,422.8 C148.2,422.9 151.8,423.4 155.0,423.7 C158.2,424.0 161.0,424.4 164.0,424.8 C167.0,425.1 169.5,425.2 173.0,425.5 C176.5,425.8 181.3,426.1 185.0,426.4 C188.7,426.6 190.8,426.8 195.0,427.0 C199.2,427.2 205.0,427.6 210.0,427.8 C215.0,427.9 220.0,428.0 225.0,428.2 C230.0,428.4 235.0,428.6 240.0,428.8 C245.0,429.0 250.0,429.1 255.0,429.2 C260.0,429.4 265.0,429.7 270.0,430.0 C275.0,430.3 280.0,430.9 285.0,431.2 C290.0,431.5 295.8,431.5 300.0,431.6 C304.2,431.7 305.8,431.8 310.0,431.8 C314.2,431.8 320.0,431.7 325.0,431.8 C330.0,431.9 335.0,432.1 340.0,432.2 C345.0,432.4 350.0,432.5 355.0,432.6 C360.0,432.6 365.0,432.5 370.0,432.6 C375.0,432.6 380.0,432.9 385.0,433.0 C390.0,433.1 394.2,433.0 400.0,433.0 C405.8,433.0 413.3,433.1 420.0,433.1 C426.7,433.1 432.9,433.1 440.0,433.2 C447.1,433.3 455.0,433.5 462.5,433.8 C470.0,434.1 476.2,434.7 485.0,435.0 C493.8,435.3 502.5,435.6 515.0,435.8 C527.5,435.9 549.2,436.0 560.0,436.2 C570.8,436.4 571.7,436.9 580.0,437.0 C588.3,437.1 600.0,436.6 610.0,436.5 C620.0,436.4 631.0,436.2 640.0,436.2 C649.0,436.2 657.8,436.5 664.0,436.5 C670.2,436.5 673.5,436.3 677.5,436.2 C681.5,436.1 685.6,435.9 688.0,435.8 C690.4,435.6 691.1,435.1 691.8,435.0" stroke="#ff7b7b" stroke-width="1.05"/>
</g>
<line x1="462.5" y1="53.7" x2="462.5" y2="446.9" stroke="#4a4a4a" stroke-width="1"/>
<line x1="462.5" y1="447.9" x2="443" y2="465" stroke="#ff6a6a" stroke-width="0.8"/>
<g stroke-width="1.1">
<line x1="449.5" y1="87.9" x2="462.5" y2="87.9" stroke="#b0a0e0"/>
<line x1="449.4" y1="123.9" x2="462.5" y2="123.9" stroke="#9a9a9a"/>
<line x1="449.3" y1="430.8" x2="462.5" y2="430.8" stroke="#9a9aff"/>
<line x1="462.5" y1="108" x2="474.4" y2="108" stroke="#ff7b7b"/>
<line x1="462.5" y1="137.8" x2="474.5" y2="137.8" stroke="#7b7bff"/>
<line x1="462.5" y1="433.8" x2="474.5" y2="433.8" stroke="#ff7b7b"/>
</g>
<circle cx="449.5" cy="87.9" r="2.8" fill="#ff0000"/>
<circle cx="449.4" cy="123.8" r="2.8" fill="#0000ff"/>
<circle cx="474.4" cy="108" r="2.8" fill="#ff7878"/>
<circle cx="474.5" cy="137.8" r="2.8" fill="#7878ff"/>
<circle cx="449.5" cy="431" r="2.8" fill="#7878ff"/>
<circle cx="474.5" cy="433.6" r="2.8" fill="#ff7878"/>
<g font-family="DejaVu Sans, Verdana, sans-serif" font-weight="bold" stroke="#111" stroke-width="0.22" font-size="7.1" fill="#111"><text x="443.8" y="90.8" text-anchor="end" textLength="37.7">274.00 hp</text><text x="443.8" y="126.8" text-anchor="end" textLength="37.7">247.37 hp</text><text x="480" y="110.9" text-anchor="start" textLength="48.1">276.02 ft-lbs</text><text x="480" y="140.7" text-anchor="start" textLength="48.1">249.19 ft-lbs</text><text x="444.2" y="433.5" text-anchor="end" textLength="53.8">13.07 Air/Fuel</text><text x="480.2" y="436.5" text-anchor="start" textLength="53.8">12.60 Air/Fuel</text></g>
<text x="421.4" y="465.6" font-family="DejaVu Sans, Verdana, sans-serif" font-weight="bold" stroke="#111" stroke-width="0.22" font-size="7.5" fill="#111">5.22</text>
<rect x="34.6" y="473" width="8.6" height="8.6" fill="#8080ff" stroke="#222" stroke-width="0.8"/><rect x="35.0" y="473.4" width="4.3" height="7.8" fill="#0000ff"/>
<rect x="34.6" y="505.7" width="8.6" height="8.6" fill="#ff8080" stroke="#222" stroke-width="0.8"/><rect x="35.0" y="506.09999999999997" width="4.3" height="7.8" fill="#ff0000"/>
<g font-family="Liberation Sans, Arial, sans-serif" font-size="8.45"><text x="48" y="479.8" fill="#2a2aff" stroke="#2a2aff" stroke-width="0.1" textLength="446.7" xml:space="preserve">RunFile_003.drf - 4/14/2016 10:32:00 AM  Run Type: RO  Run Conditions: 72.12 °F, 29.24 in-Hg,  Humidity:  39%, SAE: 1.01</text><text x="48" y="488.9" fill="#2a2aff" stroke="#2a2aff" stroke-width="0.1" textLength="39.6" xml:space="preserve">BASELINE</text><text x="48" y="498.1" fill="#2a2aff" stroke="#2a2aff" stroke-width="0.1" textLength="155.1" xml:space="preserve">Max Power = 250.04  Max Torque = 270.96</text><text x="48" y="512.3" fill="#ff1a1a" stroke="#ff1a1a" stroke-width="0.1" textLength="446.1" xml:space="preserve">RunFile_006.drf - 4/14/2016 11:02:18 AM  Run Type: RO  Run Conditions: 74.43 °F, 29.26 in-Hg,  Humidity:  34%, SAE: 1.01</text><text x="48" y="521.5" fill="#ff1a1a" stroke="#ff1a1a" stroke-width="0.1" textLength="28.4" xml:space="preserve">PF7017</text><text x="48" y="530.7" fill="#ff1a1a" stroke="#ff1a1a" stroke-width="0.1" textLength="155.1" xml:space="preserve">Max Power = 274.14  Max Torque = 289.08</text></g>
</svg></body></html>
